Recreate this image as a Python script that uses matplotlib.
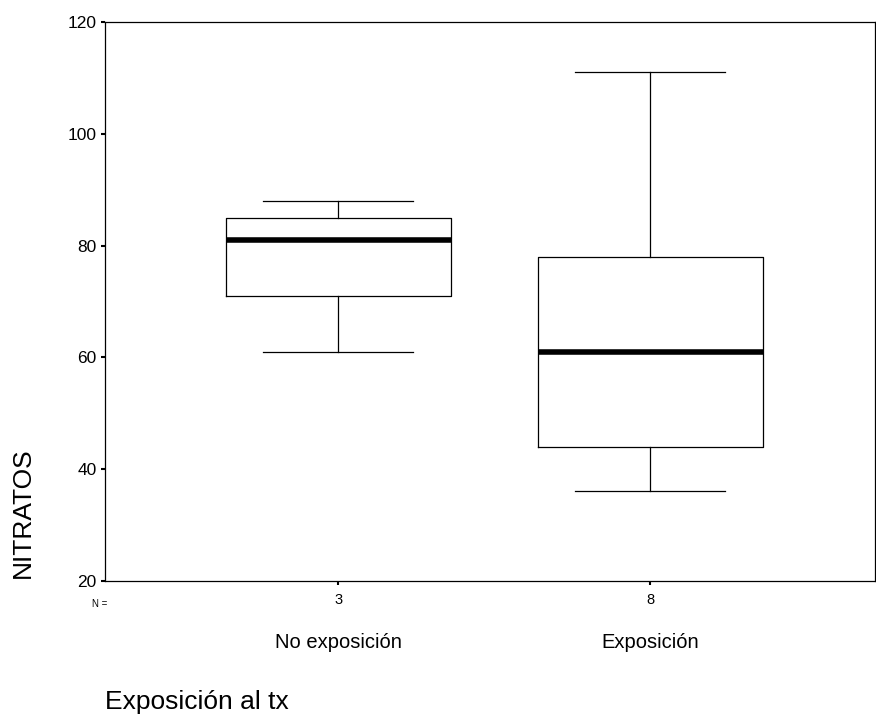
import matplotlib.pyplot as plt
import matplotlib.transforms as mtransforms

plt.rcParams['font.family'] = ['Liberation Sans', 'DejaVu Sans']

# datos (diagrama de caja)
grupos = ['No exposición', 'Exposición']
n_casos = ['3', '8']
bigote_inf = [61, 36]
q1 = [71, 44]
mediana = [81, 61]
q3 = [85, 78]
bigote_sup = [88, 111]

stats = []
for i in range(len(grupos)):
    stats.append({'whislo': bigote_inf[i], 'q1': q1[i], 'med': mediana[i],
                  'q3': q3[i], 'whishi': bigote_sup[i], 'fliers': []})

W, H = 876, 716
fig = plt.figure(figsize=(W / 100, H / 100), dpi=100)
ax = fig.add_axes([0.12, 0.189, 0.879, 0.78])

ax.bxp(stats, positions=[1, 2], widths=0.72, showfliers=False,
       boxprops=dict(color='black', linewidth=0.9),
       whiskerprops=dict(color='black', linewidth=0.9),
       capprops=dict(color='black', linewidth=0.9),
       medianprops=dict(color='black', linewidth=4),
       capwidths=0.48)

ax.set_xlim(0.253, 2.72)
ax.set_ylim(20, 120)
ax.set_yticks([20, 40, 60, 80, 100, 120])
ax.set_xticks([1, 2])
ax.set_xticklabels(n_casos)
ax.tick_params(axis='y', labelsize=12.5, length=3, width=1.5, colors='black', pad=3)
ax.tick_params(axis='x', labelsize=10.5, length=3, width=1.5, colors='black', pad=6)

for sp in ax.spines.values():
    sp.set_linewidth(0.9)

# nombres de los grupos bajo los recuentos (x en datos, y en figura)
trans = mtransforms.blended_transform_factory(ax.transData, fig.transFigure)
for i, g in enumerate(grupos):
    fig.text(i + 1, 1 - 642 / H, g, ha='center', va='center', fontsize=14.5,
             transform=trans)
fig.text(100 / W, 1 - 604 / H, 'N =', ha='center', va='center', fontsize=7)

fig.text(23 / W, 1 - 513 / H, 'NITRATOS', rotation=90, ha='center', va='center', fontsize=19)
fig.text(105 / W, 1 - 702 / H, 'Exposición al tx', ha='left', va='center', fontsize=19)

fig.savefig('out.png', dpi=100, facecolor='white')
